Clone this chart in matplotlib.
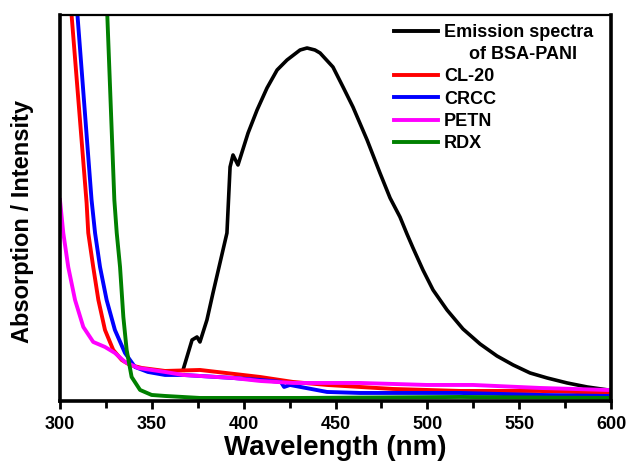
import matplotlib
matplotlib.use("Agg")
import matplotlib.pyplot as plt
from matplotlib.lines import Line2D
from matplotlib.ticker import MultipleLocator

plt.rcParams["font.family"] = ["Liberation Sans", "DejaVu Sans"]
plt.rcParams["font.weight"] = "bold"

# Emission spectrum of BSA-PANI (wavelength nm, intensity a.u.)
em_wl = [367.0, 371.9, 374.6, 376.2, 380.0, 383.3, 390.9, 392.6, 394.2, 396.9,
         402.4, 407.3, 412.7, 418.2, 423.6, 430.7, 434.5, 438.8, 441.6, 448.6,
         454.1, 459.5, 467.2, 474.2, 479.7, 485.1, 488.9, 492.2, 497.6, 503.1,
         510.7, 519.4, 528.7, 537.9, 546.7, 555.9, 565.2, 576.1, 587.0, 598.4, 600.0]
em_int = [31, 61, 64, 59, 81, 108, 168, 234, 246, 236,
          268, 291, 313, 331, 341, 351, 353, 351, 348, 334,
          314, 294, 261, 228, 203, 184, 167, 153, 131, 111,
          91, 72, 57, 45, 36, 28, 23, 18, 14, 11, 11]

# Absorption spectra of the explosives
cl20_wl = [304.8, 306.4, 314.5, 315.4, 318.1, 320.9, 324.5, 329.0, 333.6, 338.1,
           344.5, 357.2, 376.2, 399.6, 408.9, 426.9, 445.4, 463.3, 481.3, 499.8,
           517.8, 561.3, 598.4, 600.0]
cl20_abs = [420, 384, 198, 168, 134, 101, 71, 51, 41, 36,
            33, 30, 31, 26, 24, 19, 16, 14, 12, 11,
            10, 10, 8, 8]

crcc_wl = [308.0, 309.6, 317.2, 319.1, 321.8, 325.4, 329.9, 335.4, 340.8, 347.9,
           357.2, 367.0, 394.2, 408.9, 420.3, 422.0, 425.2, 445.4, 463.3, 481.3,
           517.8, 561.3, 597.8, 600.0]
crcc_abs = [420, 384, 201, 168, 134, 101, 71, 48, 34, 29,
            26, 26, 23, 21, 19, 14, 16, 9, 8, 8,
            8, 6, 5, 5]

petn_wl = [300.0, 301.8, 304.5, 308.2, 312.7, 318.1, 324.5, 329.9, 335.4, 342.6,
           357.2, 367.0, 394.2, 408.9, 426.9, 463.3, 499.8, 524.9, 561.3, 597.8, 600.0]
petn_abs = [201, 168, 134, 101, 74, 59, 54, 48, 39, 33,
            29, 26, 23, 20, 18, 18, 16, 16, 13, 11, 11]

rdx_wl = [325.0, 325.8, 329.6, 330.9, 332.7, 334.5, 336.3, 339.0, 343.6, 349.9,
          357.2, 376.2, 430.7, 517.8, 597.8, 600.0]
rdx_abs = [420, 384, 201, 168, 134, 84, 51, 24, 11, 6,
           5, 3, 3, 4, 3, 3]

fig = plt.figure(figsize=(6.28, 4.63), dpi=100)
ax = fig.add_axes([0.0955, 0.134, 0.8775, 0.8336])

ax.plot(em_wl, em_int, color="black", lw=2.6)
ax.plot(cl20_wl, cl20_abs, color="#ff0000", lw=2.8)
ax.plot(crcc_wl, crcc_abs, color="#0000ff", lw=2.8)
ax.plot(petn_wl, petn_abs, color="#ff00ff", lw=2.8)
ax.plot(rdx_wl, rdx_abs, color="#008000", lw=2.8)

ax.set_xlim(300, 600)
ax.set_ylim(0, 386)
ax.xaxis.set_major_locator(MultipleLocator(50))
ax.xaxis.set_minor_locator(MultipleLocator(25))
ax.set_yticks([])
ax.tick_params(axis="x", which="major", direction="out", length=6, width=2,
               labelsize=13, pad=5)
ax.tick_params(axis="x", which="minor", direction="out", length=5, width=2)
for lab in ax.get_xticklabels():
    lab.set_fontweight("bold")

for side in ["left", "bottom", "right"]:
    ax.spines[side].set_linewidth(2.6)
ax.spines["top"].set_linewidth(1.6)

ax.set_xlabel("Wavelength (nm)", fontsize=20, fontweight="bold", labelpad=1)
ax.set_ylabel("Absorption / Intensity", fontsize=17, fontweight="bold")
ax.yaxis.set_label_coords(-0.047, 0.465)

handles = [
    Line2D([], [], color="black", lw=2.8),
    Line2D([], [], color="none"),
    Line2D([], [], color="#ff0000", lw=2.8),
    Line2D([], [], color="#0000ff", lw=2.8),
    Line2D([], [], color="#ff00ff", lw=2.8),
    Line2D([], [], color="#008000", lw=2.8),
]
labels = ["Emission spectra", "     of BSA-PANI", "CL-20", "CRCC", "PETN", "RDX"]
leg = ax.legend(handles, labels, loc="upper left", bbox_to_anchor=(0.607, 0.977),
                frameon=False, fontsize=13, handlelength=2.4, handletextpad=0.35,
                labelspacing=0.29, borderpad=0, borderaxespad=0)
for t in leg.get_texts():
    t.set_fontweight("bold")

fig.savefig("out.png", dpi=100)
